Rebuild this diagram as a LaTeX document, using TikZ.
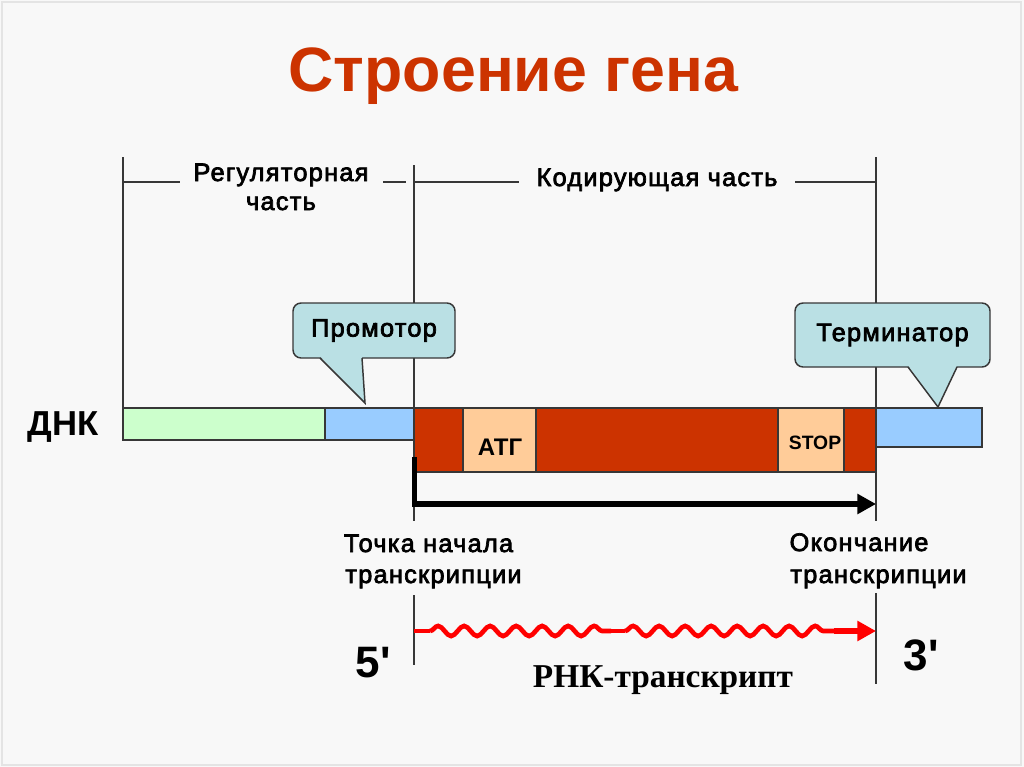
\documentclass[tikz,border=0pt]{standalone}
\usepackage{fontspec}
\setmainfont{Liberation Sans}
\newfontfamily\lblfont{Liberation Sans}[LetterSpace=5,FakeBold=2.8]
\newfontfamily\primefont{Liberation Sans}[Ligatures=TeXOff]
\newfontfamily\serffont{Liberation Serif}
\usetikzlibrary{arrows.meta,decorations.pathmorphing}
\definecolor{bg}{RGB}{248,248,248}
\definecolor{frame}{RGB}{228,228,228}
\definecolor{titlered}{RGB}{204,51,0}
\definecolor{coding}{RGB}{204,51,0}
\definecolor{regg}{RGB}{204,255,204}
\definecolor{regb}{RGB}{153,204,255}
\definecolor{codon}{RGB}{255,204,153}
\definecolor{callfill}{RGB}{186,224,228}
\definecolor{edge}{RGB}{55,55,55}
\definecolor{wavered}{RGB}{255,0,0}
\tikzset{
  thin line/.style={draw=edge, line width=0.9pt},
  segbox/.style={draw=edge, line width=0.9pt},
  lbl/.style={inner sep=0pt, anchor=base, font=\lblfont\fontsize{19}{22}\selectfont},
  bigl/.style={inner sep=0pt, anchor=base, font=\primefont\bfseries\fontsize{33}{37}\selectfont},
  callout/.style={draw=edge, line width=1.1pt, fill=callfill, rounded corners=6pt, inner sep=0pt, font=\lblfont\fontsize{19}{22}\selectfont},
  wave/.style={draw=wavered, line width=3.5pt},
  snakewave/.style={wave, decorate, decoration={snake, segment length=19.5pt, amplitude=3.8pt}},
}
\begin{document}
\begin{tikzpicture}[x=0.75pt,y=-0.75pt]
% background
\fill[bg] (0,0) rectangle (1024,767);
\draw[frame, line width=0.8pt] (2,2) rectangle (1021,765);
\useasboundingbox (0,0) rectangle (1024,767);

% title
\node[inner sep=0pt, anchor=base, text=titlered, font=\bfseries\fontsize{47}{52}\selectfont] (title) at (513.5,91) {Строение гена};

% bracket lines
\coordinate (vl1) at (123,157); \coordinate (vl1b) at (123,408);
\coordinate (vm1) at (414,165); \coordinate (vm1b) at (414,521);
\coordinate (vr1) at (876,157); \coordinate (vr1b) at (876,521);
\coordinate (vm2) at (414,595); \coordinate (vm2b) at (414,665);
\coordinate (vr2) at (876,593); \coordinate (vr2b) at (876,684);
\draw[thin line] (vl1) -- (vl1b);
\draw[thin line] (vm1) -- (vm1b);
\draw[thin line] (vr1) -- (vr1b);
\draw[thin line] (vm2) -- (vm2b);
\draw[thin line] (vr2) -- (vr2b);

\coordinate (h1a) at (123,182); \coordinate (h1b) at (180,182);
\coordinate (h2a) at (383,182); \coordinate (h2b) at (406,182);
\coordinate (h3a) at (414,182); \coordinate (h3b) at (519,182);
\coordinate (h4a) at (795,182); \coordinate (h4b) at (876,182);
\draw[thin line] (h1a) -- (h1b);
\draw[thin line] (h2a) -- (h2b);
\draw[thin line] (h3a) -- (h3b);
\draw[thin line] (h4a) -- (h4b);

\node[lbl] (reg1) at (281,181) {Регуляторная};
\node[lbl] (reg2) at (281,210) {часть};
\node[lbl] (cod) at (657,186) {Кодирующая часть};

% DNA bars
\draw[segbox, fill=regg] (123,408) rectangle (325,440);
\draw[segbox, fill=regb] (325,408) rectangle (414,440);
\draw[segbox, fill=coding] (414,408) rectangle (876,472);
\draw[segbox, fill=codon] (463,408) rectangle (536,472);
\draw[segbox, fill=codon] (778,408) rectangle (844,472);
\draw[segbox, fill=regb] (876,408) rectangle (982,447);

\node[inner sep=0pt, anchor=base, font=\bfseries\fontsize{18}{21}\selectfont] (atg) at (500,455) {АТГ};
\node[inner sep=0pt, anchor=base, font=\bfseries\fontsize{14.5}{17}\selectfont] (stop) at (815,449) {STOP};
\node[inner sep=0pt, anchor=base, font=\bfseries\fontsize{26}{30}\selectfont] (dnk) at (63,435) {ДНК};

% callouts
\node[callout, minimum width=121.5pt, minimum height=41.25pt] (prom) at (374,330.5) {Промотор};
\coordinate (p1) at (320,358); \coordinate (p2) at (362,358); \coordinate (ptip) at (365,403);
\fill[callfill] ([yshift=1.2pt]p1) -- (ptip) -- ([yshift=1.2pt]p2) -- cycle;
\draw[draw=edge, line width=1.1pt, line join=miter] (p1) -- (ptip) -- (p2);

\node[callout, minimum width=146.25pt, minimum height=48pt] (term) at (892.5,335) {Терминатор};
\coordinate (t1) at (908,367); \coordinate (t2) at (957,367); \coordinate (ttip) at (938,407);
\fill[callfill] ([yshift=1.2pt]t1) -- (ttip) -- ([yshift=1.2pt]t2) -- cycle;
\draw[draw=edge, line width=1.1pt, line join=miter] (t1) -- (ttip) -- (t2);

% transcription arrow
\coordinate (ts) at (414.5,457);
\coordinate (te) at (876,504);
\draw[black, line width=4.3pt, -{Triangle[length=14pt,width=14.5pt]}] (ts) |- (te);

% labels below
\node[lbl] (start1) at (428.5,552) {Точка начала};
\node[lbl] (start2) at (433.5,583) {транскрипции};
\node[lbl] (end1) at (859,551) {Окончание};
\node[lbl] (end2) at (878.5,583) {транскрипции};

% RNA wave
\coordinate (w0) at (414,631);
\coordinate (w1) at (430,631);
\coordinate (w2) at (611,631);
\coordinate (w3) at (625,631);
\coordinate (w4) at (834,631);
\coordinate (w5) at (876,631);
\draw[wave] (w0) -- (w1);
\draw[snakewave] (w1) -- (w2);
\draw[wave] (w2) -- (w3);
\draw[snakewave] (w3) -- (w4);
\draw[draw=wavered, line width=4.8pt, -{Triangle[length=14pt,width=14.5pt]}] (w4) -- (w5);

\node[bigl] (five) at (373,677) {5'};
\node[bigl] (three) at (921,670) {3'};
\node[inner sep=0pt, anchor=base, font=\serffont\bfseries\fontsize{25}{29}\selectfont] (rna) at (663,687) {РНК-транскрипт};
\end{tikzpicture}
\end{document}
